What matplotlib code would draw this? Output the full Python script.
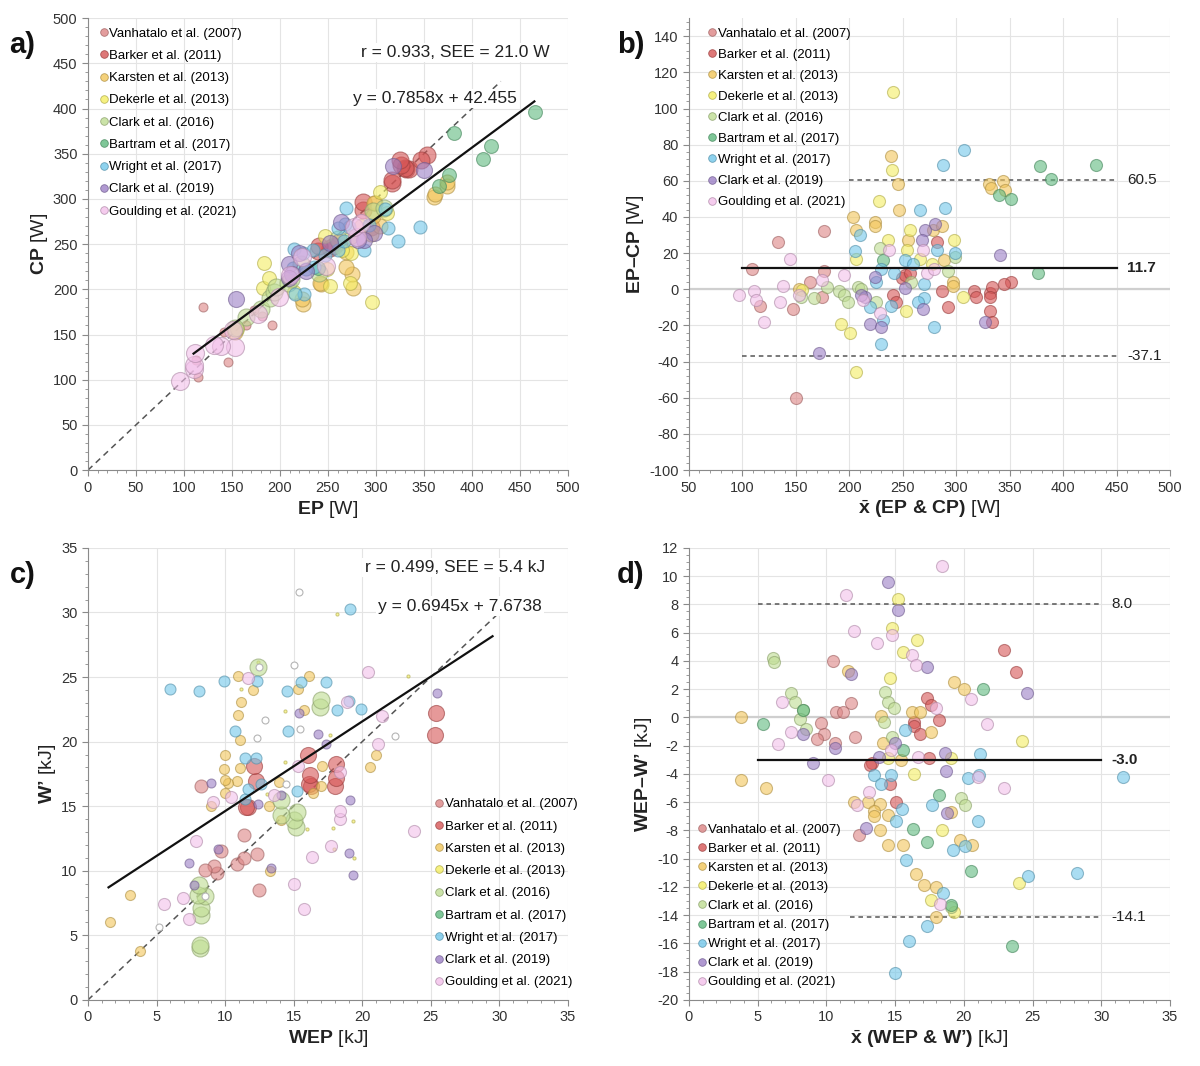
import numpy as np
import matplotlib
matplotlib.use("Agg")
import matplotlib.pyplot as plt
from matplotlib.lines import Line2D
from matplotlib.ticker import MultipleLocator
from matplotlib.colors import to_rgb

plt.rcParams["font.family"] = ["Liberation Sans", "DejaVu Sans"]
plt.rcParams["mathtext.fontset"] = "custom"
plt.rcParams["mathtext.rm"] = "Liberation Sans"
plt.rcParams["mathtext.bf"] = "Liberation Sans:bold"
plt.rcParams["mathtext.it"] = "Liberation Sans:italic"
plt.rcParams["axes.unicode_minus"] = False

STUDIES = ["Vanhatalo et al. (2007)", "Barker et al. (2011)", "Karsten et al. (2013)",
           "Dekerle et al. (2013)", "Clark et al. (2016)", "Bartram et al. (2017)",
           "Wright et al. (2017)", "Clark et al. (2019)", "Goulding et al. (2021)"]
COLORS = ["#dc8585", "#d65656", "#f2c65a", "#f4ee62", "#bfdd92",
          "#5fba7f", "#72c7ea", "#9c80c6", "#f3c0ea"]

# Bland-Altman read-outs for power: mean of EP & CP [W], and EP - CP [W]
P_MEAN = [
    [109, 133, 117, 147, 176, 176, 175, 163, 150],
    [249, 252, 241, 244, 257, 282, 287, 292, 317, 319, 332, 334, 332, 332, 334, 351, 345],
    [204, 206, 224, 224, 239, 246, 247, 255, 278, 287, 289, 297, 297, 331, 333, 344, 346, 153],
    [241, 240, 228, 236, 257, 254, 266, 253, 192, 201, 206, 206, 306, 298, 277, 156],
    [167, 155, 179, 190, 195, 199, 208, 225, 229, 292, 299, 258, 211],
    [378, 389, 431, 340, 351, 377, 232],
    [288, 307, 266, 290, 210, 205, 230, 242, 252, 260, 282, 299, 270, 270, 264, 279, 230, 232, 219, 225, 239],
    [172, 341, 327, 280, 271, 268, 252, 269, 219, 230, 215, 224, 211],
    [97, 111, 113, 120, 145, 138, 135, 153, 175, 195, 237, 269, 273, 279, 213, 229],
]
P_DIFF = [
    [11, 26, -9, -11, 32, 10, -4, 4, -60],
    [6, 8, -3, -7, 9, 26, -1, -10, -1, -4, -2, 1.5, -4, -12, -18, 4, 3],
    [40, 33, 37, 35, 74, 58, 44, 27, 33, 35, 16, 4, 2, 58, 56, 60, 55, 0],
    [109, 66, 49, 27, 33, 22, 17, -12, -19, -24, -46, 17, -4, 27, 14, -0.5],
    [-5, -4, 1.5, -1, -3, -7, 1.5, -7, 23, 10, 18, 4, 0],
    [68, 61, 69, 52, 50, 9, 16],
    [69, 77, 44, 45, 30, 21, 11, 9, 16, 14, 22, 20, 3, -5, -7, -21, -30, -17, -10, 4, -9],
    [-35, 19, -18, 36, 33, 27, 0.5, -11, -19, -21, -4, 7, -3],
    [-3, -1, -6, -18, 17, 2, -7, -3, 5, 8, 22, 22, 9, 11, -6, -13],
]

# Bland-Altman read-outs for work: mean of WEP & W' [kJ], and WEP - W' [kJ]
W_MEAN = [
    [10.5, 11.8, 10.7, 11.2, 9.6, 9.8, 9.3, 10.6, 12.1, 12.4],
    [22.9, 23.8, 17.3, 17.6, 16.4, 16.4, 16.8, 18.2, 17.5, 13.3, 13.2, 14.6, 15.1],
    [3.8, 3.8, 5.6, 11.6, 14.0, 14.1, 16.2, 16.8, 17.6, 19.3, 20.0, 12.0, 13.0, 13.9,
     13.5, 13.5, 14.5, 13.9, 14.5, 15.6, 19.7, 20.6, 16.5, 17.1, 18.0, 18.0, 15.4, 19.1],
    [15.2, 14.8, 16.6, 15.6, 14.6, 24.2, 24.0, 19.1, 16.4, 18.4, 17.6, 19.3, 14.5],
    [6.1, 6.2, 7.4, 7.7, 8.3, 8.1, 8.5, 14.3, 14.5, 14.9, 14.2, 14.8, 19.8, 20.1, 19.1],
    [5.4, 8.3, 21.4, 15.6, 18.2, 17.3, 16.3, 20.5, 23.5, 19.1],
    [15.7, 21.2, 20.3, 21.1, 31.6, 13.5, 14.0, 14.7, 15.5, 15.1, 17.7, 21.0, 19.2, 20.1,
     15.8, 24.7, 28.2, 18.5, 17.3, 16.0, 15.0],
    [14.5, 15.2, 17.3, 24.6, 11.8, 8.3, 10.6, 9.0, 15.0, 18.6, 18.7, 18.8, 12.9, 13.8],
    [18.4, 11.4, 12.0, 13.7, 14.8, 16.2, 16.5, 18.0, 20.5, 21.7, 6.8, 7.4, 6.5, 10.1,
     13.1, 12.2, 16.7, 21.0, 22.9, 18.3, 14.7],
]
W_DIFF = [
    [4.0, 1.0, 0.4, 0.4, -0.4, -1.2, -1.5, -1.8, -1.4, -8.3],
    [4.8, 3.2, 1.4, 0.9, -0.3, -0.6, -1.2, -0.2, -2.9, -3.2, -3.4, -4.7, -6.0],
    [0.0, -4.4, -5.0, 3.3, 0.1, -1.8, 0.4, 0.4, -1.0, 2.5, 2.0, -6.0, -6.0, -6.1,
     -6.6, -7.0, -6.9, -8.0, -9.0, -9.0, -8.7, -9.0, -11.1, -11.9, -12.0, -14.1, -3.0, -6.7],
    [8.4, 6.3, 5.5, 4.6, 2.8, -1.7, -11.7, -2.9, -4.0, -8.0, -12.9, -13.8, -2.9],
    [4.2, 3.9, 1.7, 1.1, 0.5, -0.1, -0.8, 1.8, 1.1, 0.7, -0.3, -1.4, -5.7, -6.2, -13.4],
    [-0.5, 0.5, 2.0, -2.3, -5.5, -8.8, -7.9, -10.9, -16.2, -13.3],
    [-0.9, -2.6, -4.3, -4.1, -4.2, -4.1, -4.7, -4.1, -6.5, -7.3, -6.2, -7.3, -9.4, -9.1,
     -10.1, -11.2, -11.0, -12.4, -14.8, -15.8, -18.1],
    [9.6, 7.6, 3.6, 1.7, 3.1, -1.2, -2.2, -3.2, -1.8, -2.5, -3.8, -6.8, -7.8, -2.8],
    [10.7, 8.7, 6.1, 5.3, 5.8, 4.4, 3.7, 0.7, 1.3, -0.5, 1.1, -1.0, -1.9, -4.4,
     -5.3, -6.2, -2.8, -4.2, -5.0, -13.2, -2.3],
]

# marker areas per study in the two scatter panels
SIZE_A = [42, 150, 117, 100, 150, 100, 88, 133, 168]
SIZE_C = [88, 133, 52, 5, 150, 25, 63, 42, 75]

# fits and agreement limits as printed on the figure
FIT_P = (0.7858, 42.455)
FIT_W = (0.6945, 7.6738)
FIT_P_RANGE = (110, 465)
FIT_W_RANGE = (1.5, 29.5)
IDENT_P = (0, 430)
IDENT_W = (0, 30)
LOA_P = (60.5, 11.7, -37.1)
LOA_W = (8.0, -3.0, -14.1)

GRID = "#e4e4e4"
TXT = "#222222"
BOX = dict(facecolor="white", edgecolor="none", pad=1.5)


def darker(c, f=0.72):
    r, g, b = to_rgb(c)
    return (r * f, g * f, b * f)


def style_axes(ax, xlim, ylim, xmaj, xmin, ymaj, ymin):
    ax.set_xlim(*xlim)
    ax.set_ylim(*ylim)
    ax.xaxis.set_major_locator(MultipleLocator(xmaj))
    ax.xaxis.set_minor_locator(MultipleLocator(xmin))
    ax.yaxis.set_major_locator(MultipleLocator(ymaj))
    ax.yaxis.set_minor_locator(MultipleLocator(ymin))
    for s in ["top", "right"]:
        ax.spines[s].set_visible(False)
    for s in ["left", "bottom"]:
        ax.spines[s].set_color("#8a8a8a")
        ax.spines[s].set_linewidth(0.8)
    ax.grid(True, which="major", color=GRID, linewidth=0.8, zorder=0)
    ax.set_axisbelow(True)
    ax.tick_params(which="major", length=4, color="#8a8a8a", labelsize=10.5, labelcolor="#333333")
    ax.tick_params(which="minor", length=2.5, color="#8a8a8a")


def add_legend(ax, spacing, **kw):
    handles = [Line2D([], [], marker="o", ls="", markersize=5.5, markerfacecolor=c,
                      markeredgecolor=darker(c), markeredgewidth=0.6, alpha=0.8)
               for c in COLORS]
    ax.legend(handles, STUDIES, frameon=False, fontsize=9.5, handlelength=0.6,
              handletextpad=0.15, labelspacing=spacing, borderpad=0.2, **kw)


def scatter_pair(ax, xs, ys, sizes=None, hollow=()):
    for i, (x, y, c) in enumerate(zip(xs, ys, COLORS)):
        s = 75 if sizes is None else sizes[i]
        if i in hollow:
            ax.scatter(x, y, s=s, facecolors="white", edgecolors="#b5b5b5",
                       linewidths=0.8, zorder=3)
        else:
            ax.scatter(x, y, s=s, color=c, edgecolors=darker(c), linewidths=0.8,
                       alpha=0.6, zorder=3)


def ba_lines(ax, limits, x_full, x_upper, x_lower, xtext):
    up, mid, lo = limits
    ax.axhline(0, color="#cfcfcf", linewidth=1.6, zorder=1)
    ax.plot(x_upper, [up, up], ls=(0, (3, 2.5)), color="#555555", lw=1.1, zorder=2)
    ax.plot(x_full, [mid, mid], color="#111111", lw=1.6, zorder=4)
    ax.plot(x_lower, [lo, lo], ls=(0, (3, 2.5)), color="#555555", lw=1.1, zorder=2)
    ax.text(xtext, up, f"{up:.1f}", va="center", ha="left", fontsize=11, color=TXT)
    ax.text(xtext, mid, f"{mid:.1f}", va="center", ha="left", fontsize=11,
            fontweight="bold", color=TXT)
    ax.text(xtext, lo, f"{lo:.1f}", va="center", ha="left", fontsize=11, color=TXT)


fig = plt.figure(figsize=(12, 10.66), dpi=100, facecolor="white")
ax_a = fig.add_axes([0.0733, 0.559, 0.400, 0.424])
ax_b = fig.add_axes([0.574, 0.559, 0.401, 0.424])
ax_c = fig.add_axes([0.0733, 0.062, 0.400, 0.424])
ax_d = fig.add_axes([0.574, 0.062, 0.401, 0.424])

p_mean = [np.array(m) for m in P_MEAN]
p_diff = [np.array(d) for d in P_DIFF]
w_mean = [np.array(m) for m in W_MEAN]
w_diff = [np.array(d) for d in W_DIFF]

# a) CP vs EP
ep = [m + d / 2 for m, d in zip(p_mean, p_diff)]
cp = [m - d / 2 for m, d in zip(p_mean, p_diff)]
style_axes(ax_a, (0, 500), (0, 500), 50, 10, 50, 10)
ax_a.plot(IDENT_P, IDENT_P, ls=(0, (4, 3)), color="#555555", lw=1.1, zorder=2)
scatter_pair(ax_a, ep, cp, SIZE_A)
fx = np.array(FIT_P_RANGE)
ax_a.plot(fx, FIT_P[0] * fx + FIT_P[1], color="#111111", lw=1.6, zorder=4)
ax_a.text(481, 462, "r = 0.933, SEE = 21.0 W", ha="right", va="center", fontsize=12.5,
          color=TXT, bbox=BOX, zorder=6)
ax_a.text(447, 411, f"y = {FIT_P[0]}x + {FIT_P[1]}", ha="right", va="center", fontsize=12.5,
          color=TXT, bbox=BOX, zorder=6)
ax_a.set_xlabel(r"$\mathbf{EP}$ [W]", fontsize=14, color=TXT, labelpad=3)
ax_a.set_ylabel(r"$\mathbf{CP}$ [W]", fontsize=14, color=TXT, labelpad=2)
add_legend(ax_a, 0.76, loc="upper left", bbox_to_anchor=(0.005, 1.0))

# b) Bland-Altman power
style_axes(ax_b, (50, 500), (-100, 150), 50, 10, 20, 4)
ba_lines(ax_b, LOA_P, (100, 450), (200, 450), (100, 450), 460)
scatter_pair(ax_b, p_mean, p_diff)
ax_b.set_xlabel(r"$\bar{\mathbf{x}}\ \mathbf{(EP\ &\ CP)}$ [W]", fontsize=14, color=TXT, labelpad=3)
ax_b.set_ylabel(r"$\mathbf{EP–CP}$ [W]", fontsize=14, color=TXT, labelpad=2)
add_legend(ax_b, 0.67, loc="upper left", bbox_to_anchor=(0.02, 1.0))

# c) W' vs WEP
wep = [m + d / 2 for m, d in zip(w_mean, w_diff)]
wpr = [m - d / 2 for m, d in zip(w_mean, w_diff)]
style_axes(ax_c, (0, 35), (0, 35), 5, 1, 5, 1)
ax_c.plot(IDENT_W, IDENT_W, ls=(0, (4, 3)), color="#555555", lw=1.1, zorder=2)
scatter_pair(ax_c, wep, wpr, SIZE_C, hollow=(5,))
fx = np.array(FIT_W_RANGE)
ax_c.plot(fx, FIT_W[0] * fx + FIT_W[1], color="#111111", lw=1.6, zorder=4)
ax_c.text(33.3, 33.5, "r = 0.499, SEE = 5.4 kJ", ha="right", va="center", fontsize=12.5,
          color=TXT, bbox=BOX, zorder=6)
ax_c.text(33.1, 30.5, f"y = {FIT_W[0]}x + {FIT_W[1]}", ha="right", va="center", fontsize=12.5,
          color=TXT, bbox=BOX, zorder=6)
ax_c.set_xlabel(r"$\mathbf{WEP}$ [kJ]", fontsize=14, color=TXT, labelpad=3)
ax_c.set_ylabel(r"$\mathbf{W’}$ [kJ]", fontsize=14, color=TXT, labelpad=2)
add_legend(ax_c, 0.76, loc="lower right", bbox_to_anchor=(1.04, 0.005))

# d) Bland-Altman work
style_axes(ax_d, (0, 35), (-20, 12), 5, 1, 2, 0.5)
ba_lines(ax_d, LOA_W, (5, 30), (5, 30), (11.7, 30), 30.7)
scatter_pair(ax_d, w_mean, w_diff)
ax_d.set_xlabel(r"$\bar{\mathbf{x}}\ \mathbf{(WEP\ &\ W’)}$ [kJ]", fontsize=14, color=TXT, labelpad=3)
ax_d.set_ylabel(r"$\mathbf{WEP–W’}$ [kJ]", fontsize=14, color=TXT, labelpad=2)
add_legend(ax_d, 0.52, loc="lower left", bbox_to_anchor=(0.0, 0.005))

for lab, x, y in [("a)", 0.008, 0.958), ("b)", 0.514, 0.958),
                  ("c)", 0.008, 0.461), ("d)", 0.514, 0.461)]:
    fig.text(x, y, lab, fontsize=21, fontweight="bold", color="#111111", va="center")

fig.savefig("out.png", dpi=100, facecolor="white")
